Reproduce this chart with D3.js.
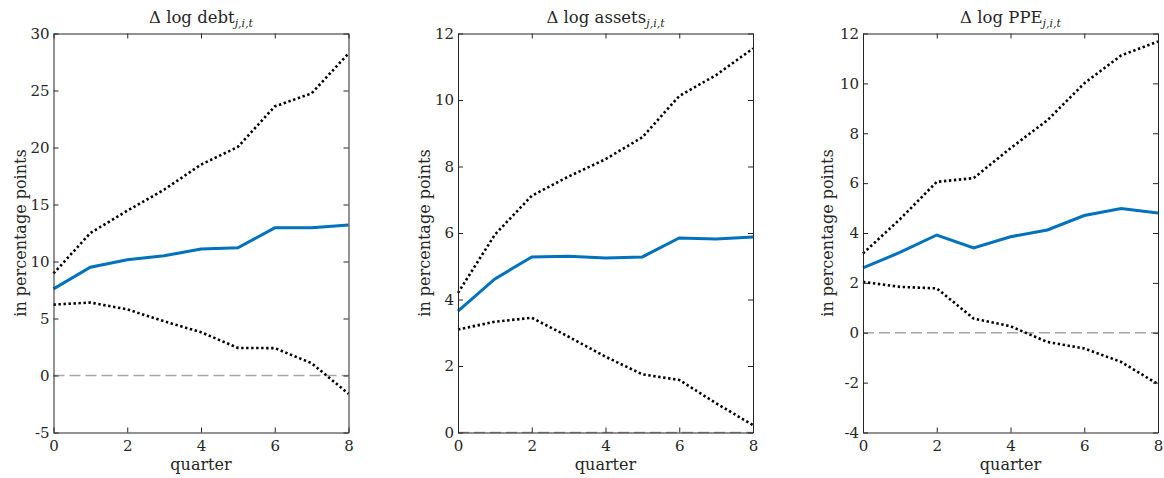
<!DOCTYPE html>
<html>
<head>
<meta charset="utf-8">
<script src="https://cdn.jsdelivr.net/npm/d3@7"></script>
<style>
  body { margin: 0; background: #fff; }
  svg { display: block; }
  text { font-family: "DejaVu Serif", "Liberation Serif", serif; fill: #262626; }
</style>
</head>
<body>
<svg width="1164" height="478"></svg>
<script>
// quarters on the x axis
var quarters = [0, 1, 2, 3, 4, 5, 6, 7, 8];
var xTicks = [0, 2, 4, 6, 8];

// panel titles (base text + subscript)
var titles = ["debt", "assets", "PPE"];

// point estimates (blue)
var debtMid   = [7.6, 9.5, 10.15, 10.5, 11.1, 11.2, 12.95, 12.95, 13.2];
var assetsMid = [3.65, 4.62, 5.28, 5.3, 5.25, 5.28, 5.85, 5.82, 5.88];
var ppeMid    = [2.6, 3.22, 3.92, 3.4, 3.85, 4.12, 4.7, 4.98, 4.8];

// upper confidence bands (dotted)
var debtHi   = [8.95, 12.5, 14.45, 16.3, 18.5, 20.05, 23.6, 24.75, 28.25];
var assetsHi = [4.2, 5.95, 7.12, 7.7, 8.22, 8.88, 10.12, 10.75, 11.55];
var ppeHi    = [3.18, 4.55, 6.05, 6.2, 7.4, 8.52, 10.0, 11.12, 11.68];

// lower confidence bands (dotted)
var debtLo   = [6.22, 6.4, 5.8, 4.75, 3.8, 2.42, 2.4, 1.08, -1.6];
var assetsLo = [3.1, 3.33, 3.45, 2.88, 2.28, 1.75, 1.58, 0.88, 0.22];
var ppeLo    = [2.04, 1.84, 1.78, 0.57, 0.26, -0.37, -0.63, -1.17, -2.06];

// y axis domains and ticks
var debtDomain = [-5, 30],  debtTicks = [-5, 0, 5, 10, 15, 20, 25, 30];
var assetsDomain = [0, 12], assetsTicks = [0, 2, 4, 6, 8, 10, 12];
var ppeDomain = [-4, 12],   ppeTicks = [-4, -2, 0, 2, 4, 6, 8, 10, 12];

var panels = [
  {title: titles[0], mid: debtMid, hi: debtHi, lo: debtLo, domain: debtDomain, ticks: debtTicks},
  {title: titles[1], mid: assetsMid, hi: assetsHi, lo: assetsLo, domain: assetsDomain, ticks: assetsTicks},
  {title: titles[2], mid: ppeMid, hi: ppeHi, lo: ppeLo, domain: ppeDomain, ticks: ppeTicks}
];

var svg = d3.select("svg");
var lefts = [53.5, 458, 863],
    ylabX = [-28, -28, -30],
    pw = 295, ptop = 33.5, ph = 399;

panels.forEach(function(p, i) {
  var g = svg.append("g")
    .attr("transform", "translate(" + lefts[i] + "," + ptop + ")");

  var xScale = d3.scaleLinear().domain([0, 8]).range([0, pw]);
  var yScale = d3.scaleLinear().domain(p.domain).range([ph, 0]);

  // zero line
  g.append("line")
    .attr("x1", 0).attr("x2", pw)
    .attr("y1", yScale(0)).attr("y2", yScale(0))
    .attr("stroke", "#a6a6a6")
    .attr("stroke-width", 1.5)
    .attr("stroke-dasharray", "11,5");

  var line = d3.line()
    .x(function(d, j) { return xScale(quarters[j]); })
    .y(function(d) { return yScale(d); });

  [p.hi, p.lo].forEach(function(s) {
    g.append("path")
      .datum(s)
      .attr("d", line)
      .attr("fill", "none")
      .attr("stroke", "#000")
      .attr("stroke-width", 2.6)
      .attr("stroke-dasharray", "2.4,2.6");
  });

  g.append("path")
    .datum(p.mid)
    .attr("d", line)
    .attr("fill", "none")
    .attr("stroke", "#0072BD")
    .attr("stroke-width", 3);

  // axes with inward ticks, box on
  var fmt = function(d) { return d < 0 ? "-" + Math.abs(d) : d; };
  g.append("g").attr("class", "ax")
    .attr("transform", "translate(0," + ph + ")")
    .call(d3.axisBottom(xScale).tickValues(xTicks).tickSize(-5).tickSizeOuter(0).tickPadding(8));
  g.append("g").attr("class", "ax")
    .call(d3.axisTop(xScale).tickValues(xTicks).tickSize(-5).tickSizeOuter(0).tickFormat(""));
  g.append("g").attr("class", "ax")
    .call(d3.axisLeft(yScale).tickValues(p.ticks).tickSize(-5).tickSizeOuter(0).tickPadding(4).tickFormat(fmt));
  g.append("g").attr("class", "ax")
    .attr("transform", "translate(" + pw + ",0)")
    .call(d3.axisRight(yScale).tickValues(p.ticks).tickSize(-5).tickSizeOuter(0).tickFormat(""));

  g.selectAll(".ax path, .ax line").attr("stroke", "#262626").attr("stroke-width", 1);
  g.selectAll(".ax text")
    .style("font-family", "'DejaVu Serif', 'Liberation Serif', serif")
    .style("font-size", "15px")
    .attr("fill", "#262626");

  // title
  var t = g.append("text")
    .attr("x", pw / 2)
    .attr("y", -11)
    .attr("text-anchor", "middle")
    .style("font-size", "16.5px");
  t.append("tspan").text("\u0394 log " + p.title);
  t.append("tspan")
    .attr("dy", 4)
    .style("font-size", "11px")
    .style("font-style", "italic")
    .text("j,i,t");

  // axis labels
  g.append("text")
    .attr("x", pw / 2)
    .attr("y", ph + 37)
    .attr("text-anchor", "middle")
    .style("font-size", "16px")
    .text("quarter");

  g.append("text")
    .attr("transform", "translate(" + ylabX[i] + "," + (ph / 2) + ") rotate(-90)")
    .attr("text-anchor", "middle")
    .style("font-size", "16px")
    .text("in percentage points");
});
</script>
</body>
</html>
